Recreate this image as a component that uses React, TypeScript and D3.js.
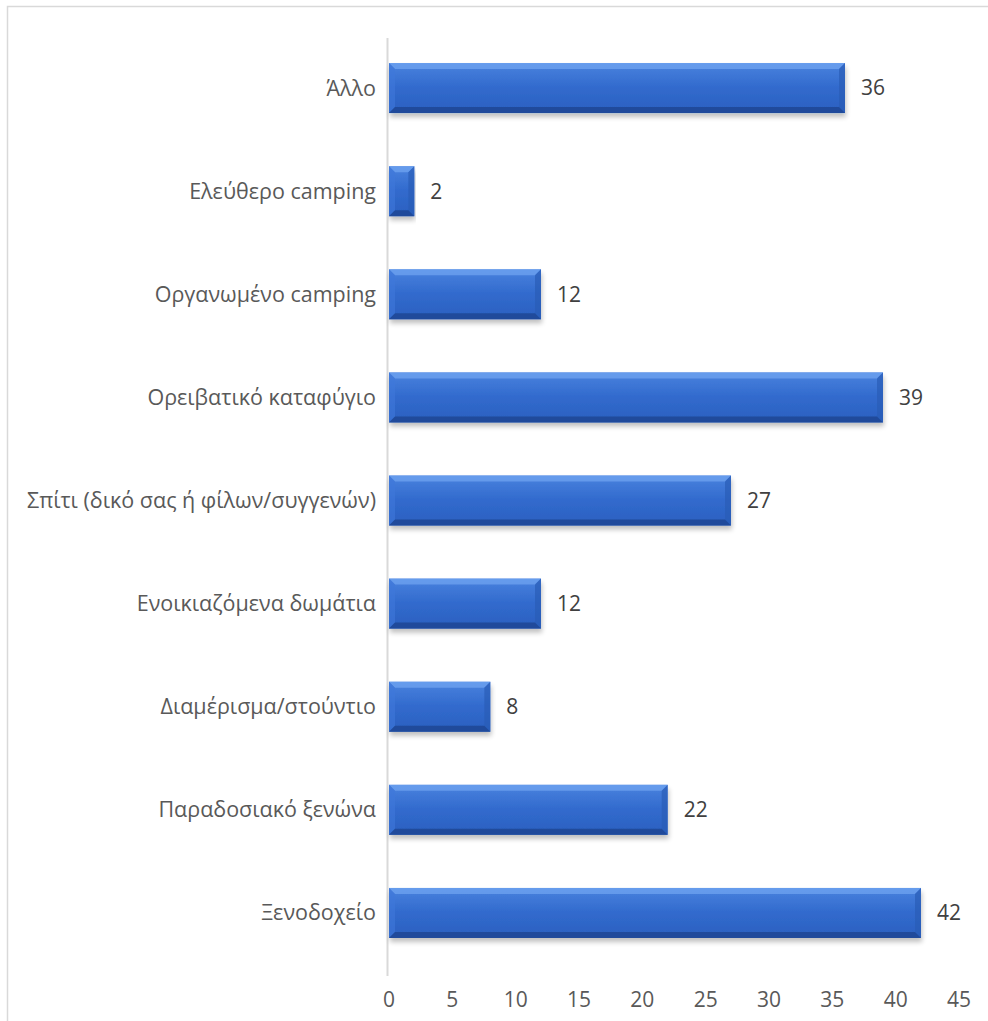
import React from "react";
import * as d3 from "d3";

const categories = [
  "Άλλο",
  "Ελεύθερο camping",
  "Οργανωμένο camping",
  "Ορειβατικό καταφύγιο",
  "Σπίτι (δικό σας ή φίλων/συγγενών)",
  "Ενοικιαζόμενα δωμάτια",
  "Διαμέρισμα/στούντιο",
  "Παραδοσιακό ξενώνα",
  "Ξενοδοχείο",
];
const values = [36, 2, 12, 39, 27, 12, 8, 22, 42];
const ticks = [0, 5, 10, 15, 20, 25, 30, 35, 40, 45];

const W = 988;
const H = 1021;
const FONT = "'Open Sans', 'Noto Sans', sans-serif";

export default function App() {
  const x = d3.scaleLinear().domain([0, 45]).range([389, 959]);
  const y = d3.scaleBand<string>().domain(categories).range([36.5, 964.5]).paddingInner(0.515).paddingOuter(0.2575);
  const bh = y.bandwidth();
  const b = 6;

  return (
    <div style={{ position: "absolute", left: 0, top: 0 }}>
      <svg width={W} height={H} style={{ display: "block" }}>
        <defs>
          <linearGradient id="barg" x1="0" y1="0" x2="0" y2="1">
            <stop offset="0" stopColor="#4a82de" />
            <stop offset="0.5" stopColor="#316acd" />
            <stop offset="1" stopColor="#2b60c0" />
          </linearGradient>
          <filter id="shadow" x="-5%" y="-20%" width="110%" height="160%">
            <feGaussianBlur in="SourceAlpha" stdDeviation="2.5" />
            <feOffset dx="1" dy="4" result="ob" />
            <feComponentTransfer>
              <feFuncA type="linear" slope="0.25" />
            </feComponentTransfer>
            <feMerge>
              <feMergeNode />
              <feMergeNode in="SourceGraphic" />
            </feMerge>
          </filter>
        </defs>
        <rect x={0} y={0} width={W} height={H} fill="#ffffff" />
        <rect x={7.5} y={6.5} width={W + 10} height={H + 10} fill="none" stroke="#d9d9d9" strokeWidth={1.5} />
        <line x1={387.5} x2={387.5} y1={38} y2={976} stroke="#d9d9d9" strokeWidth={2} />
        {categories.map((c, i) => {
          const x0 = x(0);
          const x1 = x(values[i]);
          const y0 = y(c)!;
          const y1 = y0 + bh;
          const bw = Math.min(b, (x1 - x0) / 2);
          return (
            <g key={c}>
              <g filter="url(#shadow)">
                <rect x={x0} y={y0} width={x1 - x0} height={bh} fill="url(#barg)" />
              </g>
              <polygon points={`${x0},${y0} ${x1},${y0} ${x1 - bw},${y0 + b} ${x0 + bw},${y0 + b}`} fill="#72a6f2" opacity={0.7} />
              <polygon points={`${x0},${y0} ${x0 + bw},${y0 + b} ${x0 + bw},${y1 - b} ${x0},${y1}`} fill="#4078da" opacity={0.6} />
              <polygon points={`${x1},${y0} ${x1 - bw},${y0 + b} ${x1 - bw},${y1 - b} ${x1},${y1}`} fill="#2a5cb6" opacity={0.7} />
              <polygon points={`${x0},${y1} ${x0 + bw},${y1 - b} ${x1 - bw},${y1 - b} ${x1},${y1}`} fill="#1f4794" opacity={0.85} />
              <text x={376} y={y0 + bh / 2} dy="0.35em" textAnchor="end" fontFamily={FONT} fontSize={21.5} fill="#595959">
                {c}
              </text>
              <text x={x1 + 16} y={y0 + bh / 2} dy="0.35em" textAnchor="start" fontFamily={FONT} fontSize={21} fill="#404040">
                {values[i]}
              </text>
            </g>
          );
        })}
        {ticks.map((t) => (
          <text key={t} x={x(t)} y={1000} dy="0.35em" textAnchor="middle" fontFamily={FONT} fontSize={21} fill="#595959">
            {t}
          </text>
        ))}
      </svg>
    </div>
  );
}
